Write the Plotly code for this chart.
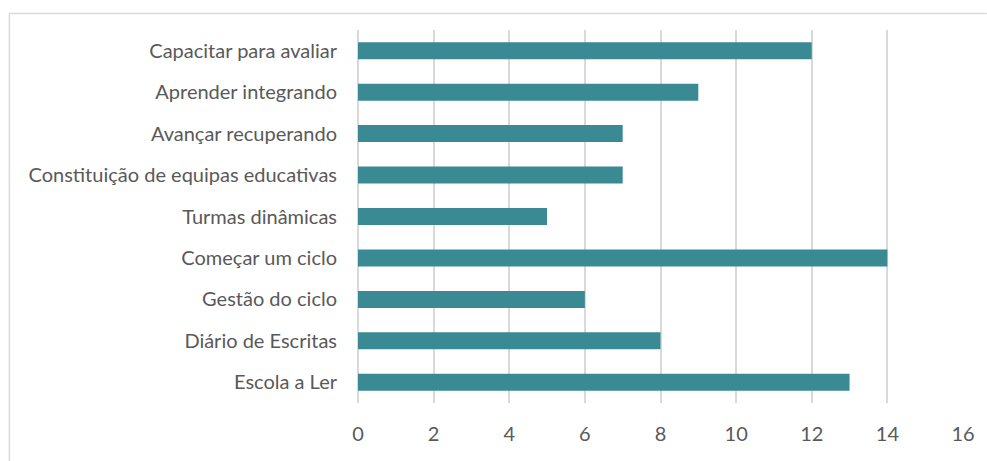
import plotly.graph_objects as go

# Number of occurrences per project (listed bottom to top)
projects = [
    "Escola a Ler",
    "Diário de Escritas",
    "Gestão do ciclo",
    "Começar um ciclo",
    "Turmas dinâmicas",
    "Constituição de equipas educativas",
    "Avançar recuperando",
    "Aprender integrando",
    "Capacitar para avaliar",
]
counts = [13, 8, 6, 14, 5, 7, 7, 9, 12]
x_ticks = [0, 2, 4, 6, 8, 10, 12, 14, 16]

W, H = 987, 461
L, R, T, B = 358, 19, 30, 58
pw, ph = W - L - R, H - T - B

def px_to_paper_x(px):
    return (px - L) / pw

def px_to_paper_y(py):
    return (H - B - py) / ph

fig = go.Figure(
    go.Bar(
        x=counts,
        y=projects,
        orientation="h",
        marker=dict(color="#3a8a94", line=dict(width=0)),
        hoverinfo="x+y",
    )
)

border = "#d9d9d9"
fig.update_layout(
    width=W,
    height=H,
    margin=dict(l=L, r=R, t=T, b=B),
    paper_bgcolor="white",
    plot_bgcolor="white",
    bargap=0.59,
    showlegend=False,
    font=dict(family="Lato, Open Sans, sans-serif", size=20, color="#595959"),
    xaxis=dict(
        range=[0, 16],
        tickvals=x_ticks,
        showgrid=True,
        gridcolor="#d9d9d9",
        gridwidth=1.6,
        zeroline=True,
        zerolinecolor="#d9d9d9",
        zerolinewidth=1.6,
        showline=False,
        ticks="",
        ticklabelstandoff=17,
        tickfont=dict(size=20, color="#595959"),
        fixedrange=True,
    ),
    yaxis=dict(
        categoryorder="array",
        categoryarray=projects,
        showgrid=False,
        zeroline=False,
        showline=False,
        ticks="",
        ticklabelstandoff=20,
        tickfont=dict(size=20, color="#595959"),
        fixedrange=True,
    ),
    shapes=[
        dict(type="line", xref="paper", yref="paper",
             x0=px_to_paper_x(6.5), x1=px_to_paper_x(W + 5),
             y0=px_to_paper_y(13.5), y1=px_to_paper_y(13.5),
             line=dict(color=border, width=1.5)),
        dict(type="line", xref="paper", yref="paper",
             x0=px_to_paper_x(6.5), x1=px_to_paper_x(6.5),
             y0=px_to_paper_y(13.5), y1=px_to_paper_y(H + 5),
             line=dict(color=border, width=1.5)),
    ],
)

fig.write_html("out.html")
